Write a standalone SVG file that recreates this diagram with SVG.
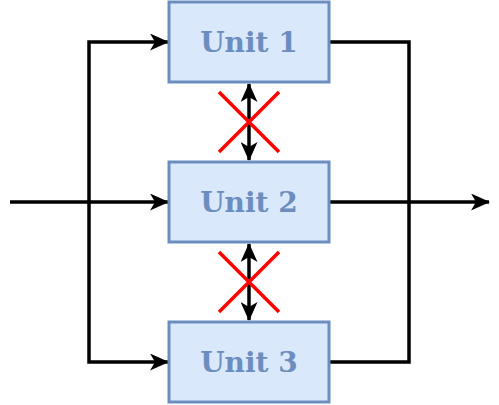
<svg xmlns="http://www.w3.org/2000/svg" width="499" height="405" viewBox="0 0 499 405">
<style>
.box{fill:#dae8fc;stroke:#6c8ebf;stroke-width:3}
.lbl{font-family:"DejaVu Serif",serif;font-weight:bold;font-size:28px;fill:#6c8ebf;text-anchor:middle}
.ln{fill:none;stroke:#000;stroke-width:3.5}
.x{fill:none;stroke:#ff0000;stroke-width:3.5}
</style>
<defs>
<marker id="ah" viewBox="0 0 19 17" refX="18" refY="8.5" markerWidth="19" markerHeight="17" markerUnits="userSpaceOnUse" orient="auto-start-reverse">
<path d="M0,0 L19,8.5 L0,17 L5,8.5 Z" fill="#000"/>
</marker>
</defs>
<rect width="499" height="405" fill="#fff"/>
<g id="connectors">
<path class="ln" d="M10,202 H168" marker-end="url(#ah)"/>
<path class="ln" d="M89,202 V42 H168" marker-end="url(#ah)"/>
<path class="ln" d="M89,202 V362 H168" marker-end="url(#ah)"/>
<path class="ln" d="M329,42 H409 V362 H329"/>
<path class="ln" d="M329,202 H489" marker-end="url(#ah)"/>
<path class="ln" d="M249,84 V160" marker-start="url(#ah)" marker-end="url(#ah)"/>
<path class="ln" d="M249,244 V320" marker-start="url(#ah)" marker-end="url(#ah)"/>
<path class="x" d="M219,92 L279,152 M279,92 L219,152"/>
<path class="x" d="M219,252 L279,312 M279,252 L219,312"/>
</g>
<g id="unit1"><rect class="box" x="169" y="2" width="160" height="80"/><text class="lbl" x="249" y="52">Unit 1</text></g>
<g id="unit2"><rect class="box" x="169" y="162" width="160" height="80"/><text class="lbl" x="249" y="212">Unit 2</text></g>
<g id="unit3"><rect class="box" x="169" y="322" width="160" height="80"/><text class="lbl" x="249" y="372">Unit 3</text></g>
</svg>
